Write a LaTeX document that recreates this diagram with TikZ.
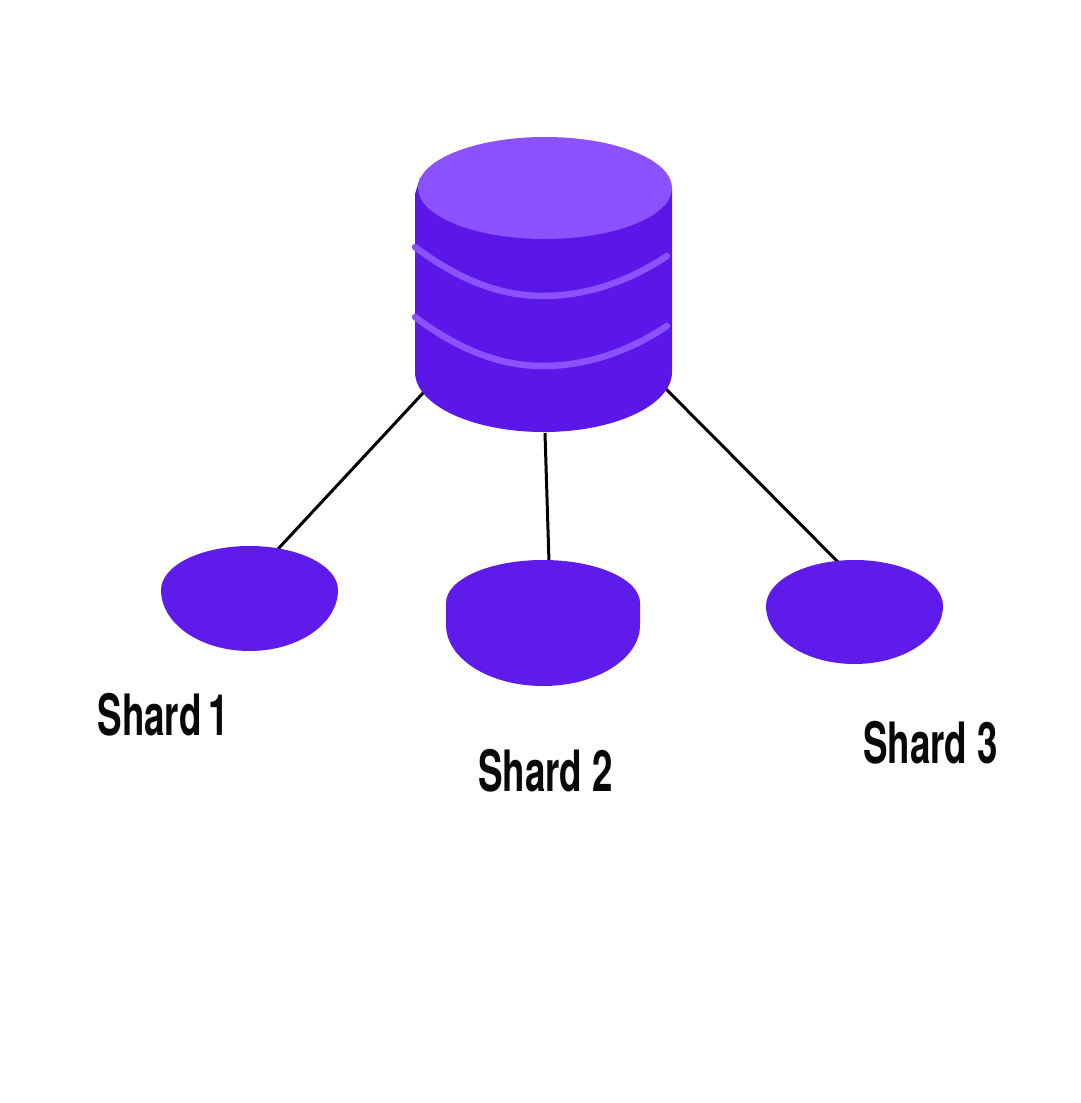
\documentclass[tikz,border=0pt]{standalone}
\usepackage{fontspec}
\usepackage{graphicx}
\setmainfont{TeX Gyre Heros}
\definecolor{dbdark}{HTML}{5A17E8}
\definecolor{dblight}{HTML}{8C52FF}
\definecolor{sharddark}{HTML}{5E1BEA}
\tikzset{
  link/.style={draw=black,line width=3pt},
  band/.style={draw=dblight,line width=6.5pt,line cap=round},
  shardlabel/.style={inner sep=0pt,font=\bfseries\fontsize{57}{60}\selectfont,text=black!97}
}
\newcommand{\narrowtext}[1]{\scalebox{0.645}[1]{#1}}
\begin{document}
\begin{tikzpicture}[x=1pt,y=-1pt]
\useasboundingbox (0,0) rectangle (1080,1103);
\fill[white] (0,0) rectangle (1080,1103);
% connector ends
\coordinate (dbL) at (424,392);
\coordinate (dbM) at (545,433);
\coordinate (dbR) at (665,388);
\coordinate (shardA) at (278,549);
\coordinate (shardB) at (549,562);
\coordinate (shardC) at (838,562);
\draw[link] (dbL) -- (shardA);
\draw[link] (dbM) -- (shardB);
\draw[link] (dbR) -- (shardC);
% cylinder
\fill[dbdark] (420,178) -- (415,194) -- (415,372)
  arc[start angle=180,end angle=0,x radius=128.5,y radius=60]
  -- (672,188) -- cycle;
\fill[dblight] (545,188) ellipse[x radius=127,y radius=51];
\draw[band] (415,247) .. controls (455,277) and (497,296) .. (543,296)
  .. controls (585,296) and (628,282) .. (667,256);
\draw[band] (415,317) .. controls (455,347) and (497,366) .. (543,366)
  .. controls (585,366) and (628,352) .. (667,326);
% shards
\fill[sharddark] (161,590)
  arc[start angle=180,end angle=0,x radius=88.5,y radius=61]
  arc[start angle=0,end angle=-180,x radius=88.5,y radius=44] -- cycle;
\fill[sharddark] (446,603) -- (446,625)
  arc[start angle=180,end angle=0,x radius=97,y radius=61]
  -- (640,603)
  arc[start angle=0,end angle=-180,x radius=97,y radius=43] -- cycle;
\fill[sharddark] (766,606)
  arc[start angle=180,end angle=0,x radius=88.5,y radius=58]
  arc[start angle=0,end angle=-180,x radius=88.5,y radius=46] -- cycle;
% labels
\node[shardlabel,anchor=base] (labelA) at (163,735) {\narrowtext{Shard\kern-6pt\ 1}};
\node[shardlabel,anchor=base] (labelB) at (545.5,791) {\narrowtext{Shard 2}};
\node[shardlabel,anchor=base] (labelC) at (930.5,763) {\narrowtext{Shard 3}};
\end{tikzpicture}
\end{document}
